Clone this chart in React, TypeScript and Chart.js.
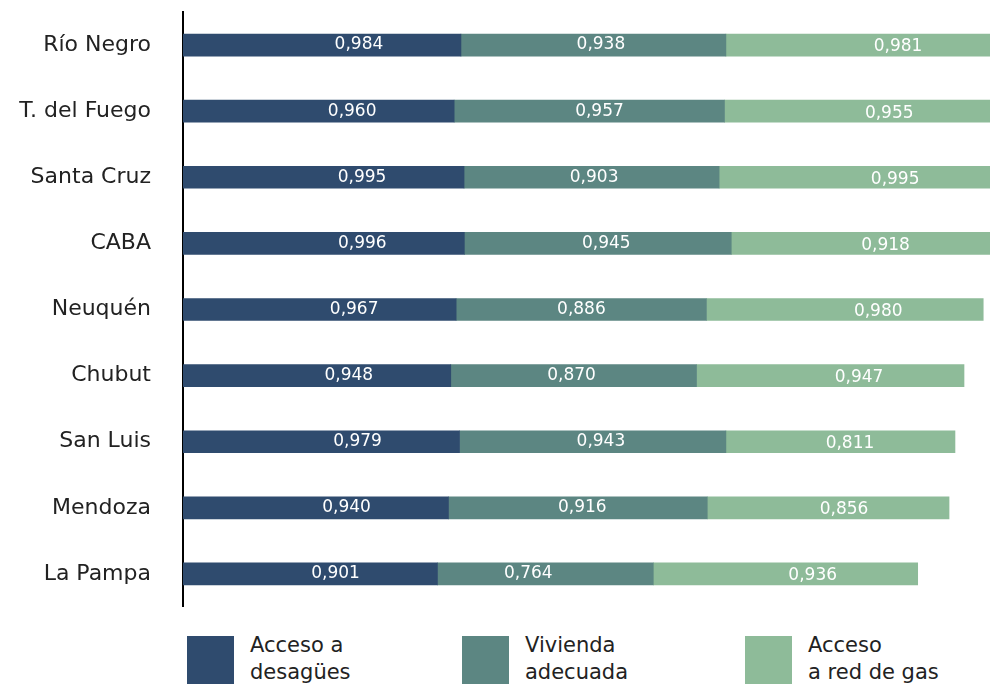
import React, { useEffect, useRef } from "react";
import { Chart, registerables } from "chart.js";

Chart.register(...registerables);

const categories = [
  "Río Negro",
  "T. del Fuego",
  "Santa Cruz",
  "CABA",
  "Neuquén",
  "Chubut",
  "San Luis",
  "Mendoza",
  "La Pampa",
];
const desagues = [0.984, 0.96, 0.995, 0.996, 0.967, 0.948, 0.979, 0.94, 0.901];
const vivienda = [0.938, 0.957, 0.903, 0.945, 0.886, 0.87, 0.943, 0.916, 0.764];
const gas = [0.981, 0.955, 0.995, 0.918, 0.98, 0.947, 0.811, 0.856, 0.936];

const seriesNames = [
  ["Acceso a", "desagües"],
  ["Vivienda", "adecuada"],
  ["Acceso", "a red de gas"],
];
const colors = ["#2F4B6E", "#5C8682", "#8EBB99"];
const labelOffsets = [102, 125, 105];
const labelDy = [0, 0, 2];
const FONT = "'DejaVu Sans', sans-serif";

const fmt = (v: number) => v.toFixed(3).replace(".", ",");

const valueLabels = {
  id: "valueLabels",
  afterDatasetsDraw(chart: any) {
    const ctx = chart.ctx;
    ctx.save();
    ctx.fillStyle = "#ffffff";
    ctx.font = `17px ${FONT}`;
    ctx.textAlign = "center";
    ctx.textBaseline = "middle";
    chart.data.datasets.forEach((ds: any, i: number) => {
      const meta = chart.getDatasetMeta(i);
      meta.data.forEach((bar: any, j: number) => {
        const x = bar.x - labelOffsets[i];
        ctx.fillText(fmt(ds.data[j]), x, bar.y + labelDy[i]);
      });
    });
    ctx.restore();
  },
};

export default function App() {
  const ref = useRef<HTMLCanvasElement | null>(null);
  useEffect(() => {
    if (!ref.current) return;
    const chart = new Chart(ref.current, {
      type: "bar",
      data: {
        labels: categories,
        datasets: [desagues, vivienda, gas].map((d, i) => ({
          label: seriesNames[i].join(" "),
          data: d,
          backgroundColor: colors[i],
          barThickness: 22,
          borderWidth: 0,
        })),
      },
      options: {
        indexAxis: "y",
        animation: false,
        responsive: false,
        maintainAspectRatio: false,
        layout: { padding: { top: 12, right: 0, bottom: 0, left: 0 } },
        plugins: {
          legend: { display: false },
          tooltip: { enabled: false },
        },
        scales: {
          x: {
            stacked: true,
            display: false,
            min: 0,
            max: 2.857,
          },
          y: {
            stacked: true,
            grid: { display: false, drawTicks: false },
            border: { display: true, color: "#000000", width: 2 },
            ticks: {
              color: "#222222",
              font: { family: FONT, size: 22 },
              padding: 32,
            },
            afterFit(scale: any) {
              scale.width = 183;
              scale.paddingTop = 0;
              scale.paddingBottom = 0;
            },
          },
        },
      },
      plugins: [valueLabels],
    });
    return () => chart.destroy();
  }, []);

  const legendLeft = [187, 462, 745];
  return (
    <div
      style={{
        position: "absolute",
        left: 0,
        top: 0,
        width: 990,
        height: 684,
        overflow: "hidden",
        background: "#ffffff",
        fontFamily: FONT,
      }}
    >
      <canvas ref={ref} width={990} height={607} style={{ display: "block" }} />
      {seriesNames.map((name, i) => (
        <div
          key={i}
          style={{
            position: "absolute",
            left: legendLeft[i],
            top: 636,
            display: "flex",
            alignItems: "flex-start",
          }}
        >
          <div style={{ width: 47, height: 48, background: colors[i] }} />
          <div
            style={{
              marginLeft: 16,
              marginTop: -4,
              fontSize: 21,
              lineHeight: "27px",
              color: "#222222",
            }}
          >
            {name[0]}
            <br />
            {name[1]}
          </div>
        </div>
      ))}
    </div>
  );
}
